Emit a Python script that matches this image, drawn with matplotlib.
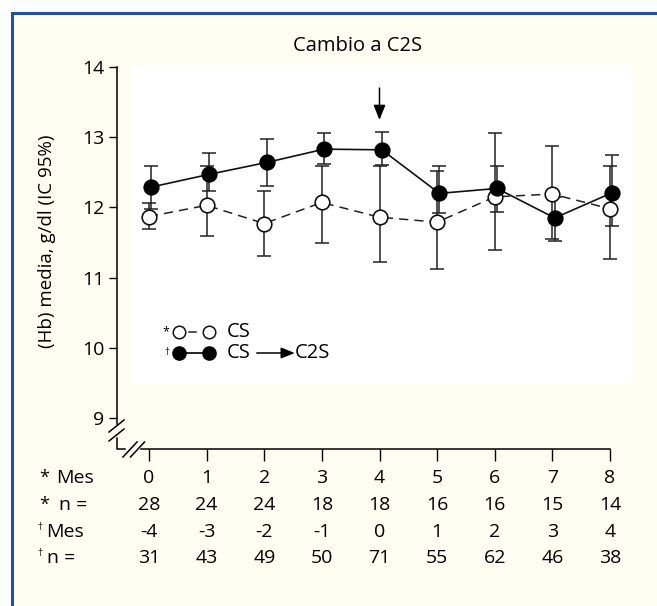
import matplotlib
matplotlib.use('Agg')
import matplotlib.pyplot as plt
import matplotlib.transforms as mtransforms
from matplotlib.patches import Rectangle
from matplotlib.lines import Line2D

plt.rcParams['font.family'] = ['Open Sans', 'DejaVu Sans']

# datos
meses = [0, 1, 2, 3, 4, 5, 6, 7, 8]

# CS (circulos blancos, linea discontinua)
cs_media = [11.87, 12.03, 11.77, 12.07, 11.86, 11.79, 12.15, 12.19, 11.98]
cs_sup = [12.06, 12.59, 12.24, 12.59, 12.59, 12.52, 13.06, 12.88, 12.59]
cs_inf = [11.69, 11.59, 11.31, 11.50, 11.22, 11.12, 11.39, 11.55, 11.26]

# CS -> C2S (circulos negros, linea continua)
c2s_media = [12.29, 12.47, 12.64, 12.83, 12.82, 12.20, 12.27, 11.85, 12.21]
c2s_sup = [12.59, 12.77, 12.97, 13.06, 13.08, 12.59, 12.59, 12.15, 12.74]
c2s_inf = [11.98, 12.24, 12.30, 12.62, 12.60, 11.92, 11.93, 11.52, 11.73]

mes_cs = ['0', '1', '2', '3', '4', '5', '6', '7', '8']
n_cs = ['28', '24', '24', '18', '18', '16', '16', '15', '14']
mes_c2s = ['-4', '-3', '-2', '-1', '0', '1', '2', '3', '4']
n_c2s = ['31', '43', '49', '50', '71', '55', '62', '46', '38']

W, H = 657, 606
fig = plt.figure(figsize=(W / 100, H / 100), dpi=100)
fig.patch.set_facecolor('white')


def px(x, y):
    # pixel position -> figure fraction
    return (x / W, 1 - y / H)


# panel crema con marco azul (cortado a la derecha y abajo)
fig.patches.append(Rectangle(px(12, 640), (700 - 12) / W, (640 - 13) / H,
                             transform=fig.transFigure, facecolor='#fffef2',
                             edgecolor='#2152a8', lw=2.2, zorder=-2))
# fondo blanco del grafico
fig.patches.append(Rectangle(px(132, 384), 500 / W, 319 / H,
                             transform=fig.transFigure, facecolor='white',
                             edgecolor='none', zorder=-1))

ax = fig.add_axes([117 / W, 1 - 449 / H, 493 / W, 382 / H])
ax.set_zorder(1)
ax.patch.set_visible(False)
ax.set_xlim(-32 / 57.625, 8)
ax.set_ylim(14 - 382 / 70.2, 14)
for s in ax.spines.values():
    s.set_visible(False)

ax.set_yticks([9, 10, 11, 12, 13, 14])
ax.tick_params(axis='y', direction='out', length=6, width=1, pad=3, labelsize=14)
ax.set_xticks(meses)
ax.set_xticklabels([])
ax.tick_params(axis='x', direction='out', length=8.6, width=1)

# ejes con cortes
k = dict(color='black', lw=1.1, transform=fig.transFigure, clip_on=False, zorder=2)
fig.add_artist(Line2D(*zip(px(117, 67), px(117, 424)), **k))
fig.add_artist(Line2D(*zip(px(117, 438), px(117, 449), px(125, 449)), **k))
fig.add_artist(Line2D(*zip(px(141, 449), px(610, 449)), **k))
for yc in (426, 435):
    fig.add_artist(Line2D(*zip(px(109, yc + 6), px(124, yc - 6)), **k))
for xc in (130, 137.5):
    fig.add_artist(Line2D(*zip(px(xc - 7, 457), px(xc + 7, 442)), **k))

x_c2s = [m + 0.04 for m in meses]

for xs, med, inf, sup in [(meses, cs_media, cs_inf, cs_sup),
                          (x_c2s, c2s_media, c2s_inf, c2s_sup)]:
    eb = ax.errorbar(xs, med,
                     yerr=[[m - i for m, i in zip(med, inf)],
                           [s - m for m, s in zip(med, sup)]],
                     fmt='none', ecolor='#222222', elinewidth=1.1, capsize=5,
                     capthick=1.1, zorder=2)
    for art in eb.get_children():
        art.set_clip_on(False)

ax.plot(meses, cs_media, color='#222222', lw=1.1, ls=(0, (6, 4)),
        marker='o', ms=10.5, mfc='white', mec='#111111', mew=1.2, zorder=3,
        clip_on=False)
ax.plot(x_c2s, c2s_media, color='#111111', lw=1.2, ls='-',
        marker='o', ms=10.5, mfc='black', mec='black', mew=1.2, zorder=4,
        clip_on=False)

# flecha de cambio
ax.annotate('', xy=(4, 13.245), xytext=(4, 13.70),
            arrowprops=dict(arrowstyle='-|>,head_length=0.45,head_width=0.18',
                            color='black', lw=1.1, mutation_scale=20,
                            shrinkA=0, shrinkB=0))

# leyenda dibujada a mano
y1, y2 = 10.225, 9.926
ax.plot([0.70, 0.81], [y1, y1], color='#222222', lw=1.1, zorder=3)
ax.plot([0.52, 1.04], [y1, y1], ls='none',
        marker='o', ms=9, mfc='white', mec='#111111', mew=1.1, zorder=3)
ax.plot([0.52, 1.04], [y2, y2], color='black', lw=1.2,
        marker='o', ms=9.5, mfc='black', mec='black', zorder=3)
ax.text(0.29, y1, '*', fontsize=9, ha='center', va='center')
ax.text(0.30, y2, '\u2020', fontsize=7, ha='center', va='center')
ax.text(1.35, y1, 'CS', fontsize=14.5, ha='left', va='center')
ax.text(1.35, y2, 'CS', fontsize=14.5, ha='left', va='center')
ax.annotate('', xy=(2.53, y2), xytext=(1.87, y2),
            arrowprops=dict(arrowstyle='-|>,head_length=0.55,head_width=0.22',
                            color='black', lw=1.1, mutation_scale=15,
                            shrinkA=0, shrinkB=0))
ax.text(2.53, y2, 'C2S', fontsize=14.5, ha='left', va='center')

# titulo y etiqueta del eje
fig.text(*px(358, 46), 'Cambio a C2S', fontsize=14.5, ha='center', va='center')
fig.text(*px(47, 241), '(Hb) media, g/dl (IC 95%)', fontsize=13.5,
         rotation=90, ha='center', va='center')

# tabla inferior
tr = mtransforms.blended_transform_factory(ax.transData, fig.transFigure)
filas = [(478, mes_cs), (505, n_cs), (532, mes_c2s), (558, n_c2s)]
for yy, vals in filas:
    for m, v in zip(meses, vals):
        ax.text(m, 1 - yy / H, v, transform=tr, fontsize=14,
                ha='center', va='center', clip_on=False)

fig.text(*px(39, 478), '*', fontsize=13, ha='left', va='center')
fig.text(*px(56, 478), 'Mes', fontsize=14, ha='left', va='center')
fig.text(*px(39, 505), '*', fontsize=13, ha='left', va='center')
fig.text(*px(59, 505), 'n =', fontsize=14, ha='left', va='center')
fig.text(*px(37, 527), '\u2020', fontsize=7, ha='left', va='center')
fig.text(*px(46, 532), 'Mes', fontsize=14, ha='left', va='center')
fig.text(*px(37, 553), '\u2020', fontsize=7, ha='left', va='center')
fig.text(*px(47, 558), 'n =', fontsize=14, ha='left', va='center')

fig.savefig('out.png', dpi=100)
